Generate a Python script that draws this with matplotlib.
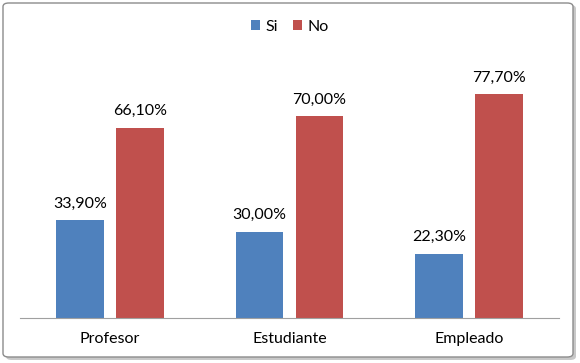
import numpy as np
import matplotlib
matplotlib.use("Agg")
import matplotlib.pyplot as plt
from matplotlib.patches import FancyBboxPatch

categories = ["Profesor", "Estudiante", "Empleado"]
si_values = [33.9, 30.0, 22.3]
no_values = [66.1, 70.0, 77.7]
series_names = ["Si", "No"]

plt.rcParams['font.family'] = ['Lato', 'DejaVu Sans']

fig = plt.figure(figsize=(5.8, 3.63), dpi=100)

# chart frame with a soft shadow, like the Excel chart area
shadow = FancyBboxPatch((6 / 580, 1 - 360 / 363), 570 / 580, 355 / 363,
                        boxstyle="round,pad=0,rounding_size=0.01",
                        transform=fig.transFigure, facecolor="#c8c8c8",
                        edgecolor="none", zorder=0)
frame = FancyBboxPatch((3 / 580, 1 - 357 / 363), 570 / 580, 354 / 363,
                       boxstyle="round,pad=0,rounding_size=0.01",
                       transform=fig.transFigure, facecolor="white",
                       edgecolor="#8c8c8c", linewidth=1.0, zorder=1)
fig.patches.extend([shadow, frame])

ax = fig.add_axes([20 / 580, 1 - 318 / 363, 539 / 580, 288 / 363])
ax.set_zorder(2)
ax.patch.set_alpha(0)

x = np.arange(len(categories))
w = 0.267
off = 0.167
b1 = ax.bar(x - off, si_values, w, color="#4F81BD", label=series_names[0])
b2 = ax.bar(x + off, no_values, w, color="#C0504D", label=series_names[1])

for bars, vals in [(b1, si_values), (b2, no_values)]:
    for r, v in zip(bars, vals):
        ax.text(r.get_x() + r.get_width() / 2, v + 3.3, f"{v:.2f}%".replace(".", ","),
                ha="center", va="bottom", fontsize=11.5, color="#000000")

ax.set_xlim(-0.5, 2.5)
ax.set_ylim(0, 100)
ax.set_xticks(x)
ax.set_xticklabels(categories, fontsize=11.5)
ax.tick_params(axis="x", length=0, pad=10)
ax.set_yticks([])
for s in ["top", "right", "left"]:
    ax.spines[s].set_visible(False)
ax.spines["bottom"].set_color("#a0a0a0")

fig.legend(handles=[b1, b2], labels=series_names, loc="center",
           bbox_to_anchor=(290 / 580, 1 - 27 / 363), ncol=2, frameon=False,
           fontsize=11.5, handlelength=0.6, handleheight=0.6,
           handletextpad=0.35, columnspacing=0.9)

fig.savefig("out.png", dpi=100)
